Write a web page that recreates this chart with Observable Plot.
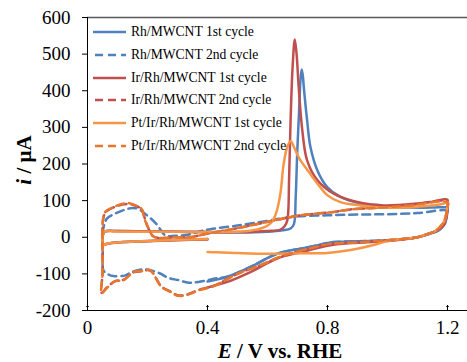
<!DOCTYPE html>
<html>
<head>
<meta charset="utf-8">
<script src="https://cdn.jsdelivr.net/npm/d3@7"></script>
<script src="https://cdn.jsdelivr.net/npm/@observablehq/plot@0.6"></script>
<style>
  html, body { margin: 0; padding: 0; background: white; overflow: hidden; }
  #wrap { position: relative; width: 467px; height: 362px; }
  #legend { position: absolute; left: 93px; top: 21px; color: #000; }
  #legend .row { display: flex; align-items: center; height: 22.7px; white-space: nowrap; }
  #legend svg { margin-right: 5px; flex: none; }
  .ylab { position: absolute; left: 24px; top: 160px; transform: translate(-50%, -50%) rotate(-90deg); font-weight: bold; white-space: nowrap; line-height: 1; }
  .xlab { position: absolute; left: 280px; top: 351px; transform: translate(-50%, -50%); font-weight: bold; white-space: nowrap; line-height: 1; }
</style>
</head>
<body>
<div id="wrap">
  <div id="chart"></div>
  <div id="legend"></div>
  <div class="ylab"><i>i</i> / μA</div>
  <div class="xlab"><i>E</i> / V vs. RHE</div>
</div>
<script>
// ---- tick values ----
const xTicks = [0, 0.4, 0.8, 1.2];
const yTicks = [-200, -100, 0, 100, 200, 300, 400, 500, 600];

// ---- series labels ----
const seriesLabels = [
  "Rh/MWCNT 1st cycle",
  "Rh/MWCNT 2nd cycle",
  "Ir/Rh/MWCNT 1st cycle",
  "Ir/Rh/MWCNT 2nd cycle",
  "Pt/Ir/Rh/MWCNT 1st cycle",
  "Pt/Ir/Rh/MWCNT 2nd cycle"
];

// ---- Rh/MWCNT 1st cycle ----
const rh1E = [0.40,0.30,0.20,0.12,0.08,0.06,0.052,0.050,0.051,0.055,0.065,0.10,0.20,0.30,0.40,0.50,0.60,0.65,0.677,0.688,0.694,0.699,0.705,0.710,0.714,0.718,0.721,0.732,0.743,0.766,0.799,0.843,0.91,0.988,1.077,1.15,1.19,1.20,1.198,1.19,1.175,1.16,1.13,1.10,1.04,0.99,0.90,0.81,0.766,0.71,0.632,0.543,0.466,0.40];
const rh1I = [-5,-7,-10,-13,-16,-19,-21,-15,5,14,17,17,16,15,14,13,15,19,24,36,110,229,340,429,458,440,410,320,247,183,137,110,92,83,81,81,82,80,60,35,22,15,7,0,-6,-9,-11,-14,-22,-31,-45,-81,-108,-121];

// ---- Rh/MWCNT 2nd cycle ----
const rh2E = [0.43,0.37,0.337,0.303,0.27,0.242,0.21,0.18,0.148,0.126,0.087,0.064,0.053,0.051,0.051,0.056,0.066,0.093,0.127,0.15,0.17,0.19,0.21,0.23,0.26,0.29,0.33,0.37,0.41,0.50,0.60,0.65,0.70,0.80,0.90,1.00,1.10,1.20,1.198,1.19,1.175,1.16,1.13,1.10,1.04,0.99,0.90,0.81,0.766,0.71,0.632,0.543,0.466,0.43];
const rh2I = [-112,-122,-124,-117,-111,-99,-90,-88,-95,-104,-106,-99,-90,-40,10,35,52,65,76,80,77,65,52,36,5,4,6,15,22,32,45,52,57,60,62,63,66,72,60,35,22,15,7,0,-6,-9,-11,-14,-22,-31,-45,-81,-108,-112];

// ---- Ir/Rh/MWCNT 1st cycle ----
const ir1E = [0.40,0.30,0.20,0.12,0.08,0.06,0.052,0.050,0.051,0.055,0.065,0.10,0.20,0.30,0.40,0.50,0.60,0.643,0.657,0.666,0.672,0.677,0.684,0.691,0.697,0.704,0.716,0.732,0.766,0.821,0.899,0.988,1.099,1.15,1.199,1.20,1.195,1.185,1.166,1.132,1.10,1.043,0.99,0.90,0.81,0.71,0.632,0.543,0.466,0.40];
const ir1I = [-6,-8,-11,-13,-16,-19,-21,-15,5,14,17,17,16,15,14,14,17,21,30,46,160,320,470,540,500,410,292,210,156,119,96,87,92,97,103,85,50,30,19,8,0,-7,-11,-15,-22,-41,-58,-95,-122,-137];

// ---- Ir/Rh/MWCNT 2nd cycle ----
const ir2E = [0.44,0.413,0.37,0.337,0.303,0.276,0.247,0.209,0.18,0.153,0.12,0.092,0.064,0.047,0.050,0.050,0.052,0.06,0.088,0.121,0.14,0.16,0.18,0.19,0.20,0.22,0.25,0.29,0.34,0.40,0.50,0.60,0.71,0.81,0.877,1.00,1.077,1.20,1.198,1.19,1.175,1.16,1.13,1.10,1.00,0.90,0.81,0.743,0.654,0.577,0.50,0.44];
const ir2I = [-126,-135,-144,-155,-159,-148,-135,-91,-93,-96,-116,-120,-138,-152,-100,0,48,68,82,90,91,86,77,54,30,2,-2,0,0,10,25,42,60,68,76,82,88,97,75,45,28,17,8,0,-8,-14,-18,-30,-50,-76,-100,-126];

// ---- Pt/Ir/Rh/MWCNT 1st cycle ----
const pt1E = [0.40,0.30,0.20,0.12,0.08,0.06,0.052,0.050,0.051,0.055,0.065,0.10,0.20,0.30,0.40,0.50,0.543,0.588,0.61,0.621,0.632,0.643,0.654,0.666,0.677,0.688,0.70,0.71,0.738,0.766,0.799,0.843,0.91,0.988,1.099,1.188,1.20,1.198,1.19,1.175,1.16,1.13,1.10,1.05,1.00,0.95,0.877,0.80,0.70,0.60,0.50,0.43,0.40];
const pt1I = [-5,-7,-10,-13,-16,-19,-22,-15,5,15,17,16,15,15,14,15,18,27,38,50,75,119,201,247,263,247,225,210,178,147,115,96,87,81,83,92,96,75,45,28,17,8,0,-5,-10,-22,-35,-43,-44,-45,-43,-41,-40];

// ---- Pt/Ir/Rh/MWCNT 2nd cycle ----
const pt2E = [0.44,0.413,0.37,0.337,0.303,0.276,0.247,0.209,0.18,0.153,0.12,0.092,0.064,0.047,0.050,0.050,0.052,0.06,0.088,0.121,0.14,0.16,0.18,0.19,0.20,0.22,0.25,0.29,0.34,0.40,0.50,0.60,0.71,0.81,0.877,1.00,1.077,1.20,1.198,1.19,1.175,1.16,1.13,1.10,1.00,0.90,0.81,0.743,0.654,0.577,0.50,0.44];
const pt2I = [-126,-136,-145,-156,-160,-149,-136,-90,-92,-95,-117,-120,-139,-153,-100,0,50,70,83,92,93,87,78,50,30,2,-2,0,0,10,25,42,60,68,76,82,87,95,75,45,28,17,8,0,-8,-14,-18,-30,-50,-76,-100,-126];

// ---- styles (not data) ----
const seriesStyle = [
  {color: "#4F81BD", dash: null},
  {color: "#4F81BD", dash: "8,5"},
  {color: "#C0504D", dash: null},
  {color: "#C0504D", dash: "8,5"},
  {color: "#F79646", dash: null},
  {color: "#E8772E", dash: "8,5"}
];

// ---- font choice and size fitting ----
const FONT = "'Liberation Serif', Tinos, 'Times New Roman', 'Nimbus Roman', 'Nimbus Roman No9 L', 'Noto Serif', 'DejaVu Serif', serif";
const ctx = document.createElement("canvas").getContext("2d");
function fit(text, weight, target) {
  ctx.font = `${weight} 100px ${FONT}`;
  const w = ctx.measureText(text).width;
  return Math.round(100 * target / w * 10) / 10;
}
const tickSize = Math.min(19, fit("600", "normal", 29));
const legendSize = Math.min(14.5, fit(seriesLabels[0], "normal", 123));
const titleSize = Math.min(21, fit("E / V vs. RHE", "bold", 134));

document.getElementById("wrap").style.fontFamily = FONT;
document.getElementById("legend").style.fontSize = legendSize + "px";
document.querySelector(".xlab").style.fontSize = titleSize + "px";
document.querySelector(".ylab").style.fontSize = titleSize + "px";

const seriesE = [rh1E, rh2E, ir1E, ir2E, pt1E, pt2E];
const seriesI = [rh1I, rh2I, ir1I, ir2I, pt1I, pt2I];

const tables = seriesE.map((E, k) => E.map((e, j) => ({E: e, I: seriesI[k][j], series: seriesLabels[k]})));

const lineMarks = tables.map((t, k) => Plot.line(t, {
  x: "E", y: "I",
  stroke: seriesStyle[k].color,
  strokeWidth: 2.5,
  strokeDasharray: seriesStyle[k].dash || undefined,
  curve: "catmull-rom"
}));

const chart = Plot.plot({
  width: 467,
  height: 362,
  marginLeft: 87,
  marginRight: 0,
  marginTop: 17,
  marginBottom: 52,
  x: {domain: [0, 380 / 300]},
  y: {domain: [yTicks[0], yTicks[yTicks.length - 1]]},
  style: {fontFamily: FONT, fontSize: tickSize + "px", color: "black", background: "white"},
  marks: [
    Plot.ruleY([yTicks[yTicks.length - 1]], {stroke: "#595959", strokeWidth: 1.5}),
    ...lineMarks,
    Plot.ruleX([xTicks[0]], {stroke: "black", strokeWidth: 1}),
    Plot.ruleY([yTicks[0]], {stroke: "black", strokeWidth: 1}),
    Plot.axisY(yTicks, {tickSize: 5, tickPadding: 12, tickFormat: d => String(d), label: null, stroke: "black", fill: "black"}),
    Plot.axisX(xTicks, {tickSize: 0, tickPadding: 10, tickFormat: d => String(d), label: null, fill: "black"}),
    Plot.vector(xTicks, {x: d => d, frameAnchor: "bottom", length: 5, anchor: "start", stroke: "black", strokeWidth: 1})
  ]
});
document.getElementById("chart").appendChild(chart);

// ---- legend ----
const legend = document.getElementById("legend");
seriesLabels.forEach((label, k) => {
  const row = document.createElement("div");
  row.className = "row";
  const st = seriesStyle[k];
  row.innerHTML = `<svg width="33" height="6"><line x1="0" y1="3" x2="33" y2="3" stroke="${st.color}" stroke-width="2.5" ${st.dash ? `stroke-dasharray="8,5" stroke-dashoffset="-2"` : ""}/></svg><span>${label}</span>`;
  legend.appendChild(row);
});
</script>
</body>
</html>
